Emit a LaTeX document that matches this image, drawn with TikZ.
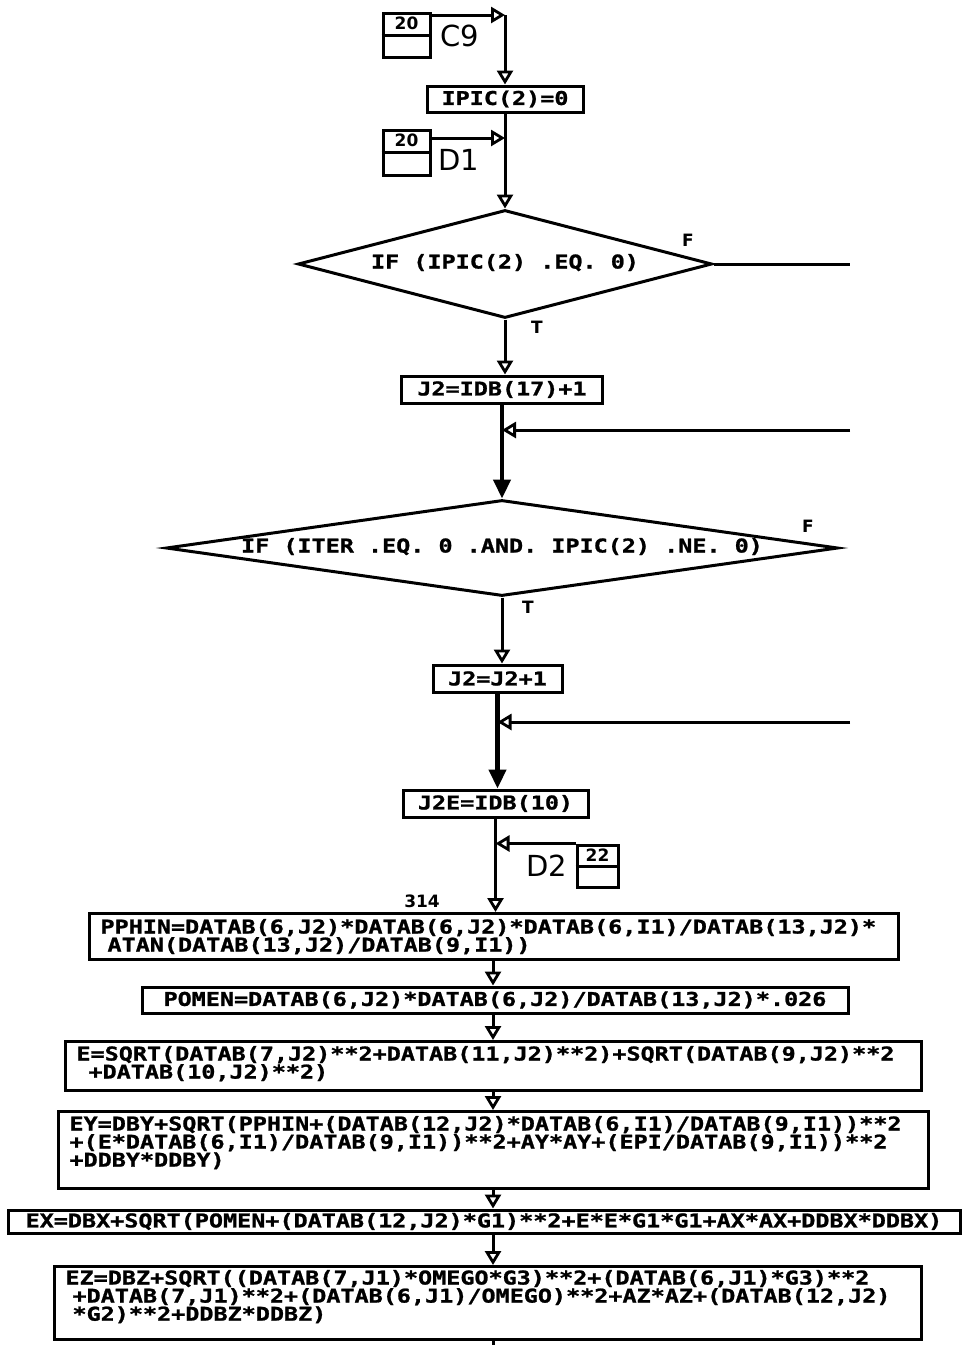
\documentclass[tikz,border=0pt]{standalone}
\usepackage{fontspec}
\usetikzlibrary{arrows.meta,shapes.geometric,calc}
\newfontfamily\plotfont[FakeStretch=1.233,FakeBold=1.2]{DejaVu Sans Mono}
\newfontfamily\lblfont{DejaVu Sans}
\tikzset{
 pf/.style={font={\plotfont\bfseries\fontsize{19pt}{16pt}\selectfont}},
 sbox/.style={draw, line width=3pt, inner sep=0pt, pf},
 mbox/.style={draw, line width=3pt, pf, anchor=north west, align=left, inner xsep=11pt, inner ysep=5pt},
 dia/.style={diamond, draw, line width=3pt, inner sep=0pt, pf, text height=12pt, text depth=3pt},
 flow/.style={line width=3pt},
 heavy/.style={line width=4.5pt},
 oarr/.style={-{Triangle[open, length=14pt, width=16pt, line width=2.8pt]}},
 farr/.style={-{Triangle[length=19pt, width=17pt]}},
 conn/.style={draw, line width=3pt, inner sep=0pt},
 connnum/.style={font={\lblfont\bfseries\fontsize{17pt}{17pt}\selectfont}, inner sep=0pt},
 biglbl/.style={font={\lblfont\fontsize{29pt}{29pt}\selectfont}, inner sep=0pt},
 smlbl/.style={font={\lblfont\bfseries\fontsize{17pt}{17pt}\selectfont}, inner sep=0pt},
}
\begin{document}
\begin{tikzpicture}[x=1pt,y=-1pt]
\useasboundingbox (0,0) rectangle (965,1345);
\fill[white] (0,0) rectangle (965,1345);
% connector C9
\node[conn, minimum width=47pt, minimum height=44pt] (k1) at (406.5,35) {};
\draw[line width=3pt] (k1.west) -- (k1.east);
\node[connnum] (k1n) at ($(k1.north)!0.5!(k1.center)$) {20};
\node[biglbl] (c9) at (460,36) {C9};
\coordinate (c9c) at (505,15);
\node[sbox, minimum width=156pt, minimum height=26pt] (ipic) at (505,99) {IPIC(2)=0};
% connector D1
\node[conn, minimum width=47pt, minimum height=45pt] (k2) at (406.5,152.5) {};
\draw[line width=3pt] (k2.west) -- (k2.east);
\node[connnum] (k2n) at ($(k2.north)!0.5!(k2.center)$) {20};
\node[biglbl] (d1l) at (459,160) {D1};
\coordinate (d1c) at (505,138);
% decision 1
\node[dia, minimum width=414pt, minimum height=108pt, aspect=3.83] (d1) at (505,264) {IF (IPIC(2) .EQ. 0)};
\coordinate (r0) at (850,264);
\node[smlbl] (d1f) at (688,240) {F};
\node[smlbl] (d1t) at (537,327) {T};
\node[sbox, minimum width=201pt, minimum height=27pt] (j2a) at (502,389.5) {J2=IDB(17)+1};
\coordinate (r1) at (850,430);
% decision 2
\node[dia, minimum width=672pt, minimum height=96pt, aspect=7] (d2) at (502,548) {IF (ITER .EQ. 0 .AND. IPIC(2) .NE. 0)};
\node[smlbl] (d2f) at (808,526) {F};
\node[smlbl] (d2t) at (528,607) {T};
\node[sbox, minimum width=129pt, minimum height=27pt] (j3) at (497.5,678.5) {J2=J2+1};
\coordinate (r2) at (850,722);
\node[sbox, minimum width=185pt, minimum height=27pt] (j2e) at (495.5,803.5) {J2E=IDB(10)};
% connector D2
\node[conn, minimum width=41pt, minimum height=42pt] (k3) at (597.5,866) {};
\draw[line width=3pt] (k3.west) -- (k3.east);
\node[connnum] (k3n) at ($(k3.north)!0.5!(k3.center)$) {22};
\node[biglbl] (d2l) at (547,866) {D2};
\node[smlbl] (n314) at (422,901) {314};
% statement boxes
\node[mbox, text width=787pt, text height=15pt, text depth=21pt] (pp) at (88,912)
 {PPHIN=DATAB(6,J2)*DATAB(6,J2)*DATAB(6,I1)/DATAB(13,J2)*\\\hspace*{7pt}ATAN(DATAB(13,J2)/DATAB(9,I1))};
\node[sbox, minimum width=706pt, minimum height=26pt] (pom) at (495,1000)
 {POMEN=DATAB(6,J2)*DATAB(6,J2)/DATAB(13,J2)*.026};
\node[mbox, text width=834pt, text height=14pt, text depth=25pt] (eb) at (64,1040)
 {E=SQRT(DATAB(7,J2)**2+DATAB(11,J2)**2)+SQRT(DATAB(9,J2)**2\\\hspace*{12pt}+DATAB(10,J2)**2)};
\node[mbox, text width=848pt, text height=14pt, text depth=53pt] (ey) at (57,1110)
 {EY=DBY+SQRT(PPHIN+(DATAB(12,J2)*DATAB(6,I1)/DATAB(9,I1))**2\\+(E*DATAB(6,I1)/DATAB(9,I1))**2+AY*AY+(EPI/DATAB(9,I1))**2\\+DDBY*DDBY)};
\node[sbox, minimum width=952pt, minimum height=23pt] (ex) at (484,1221.5)
 {EX=DBX+SQRT(POMEN+(DATAB(12,J2)*G1)**2+E*E*G1*G1+AX*AX+DDBX*DDBX)};
\node[mbox, text width=845pt, text height=13pt, text depth=50pt] (ez) at (53,1265)
 {EZ=DBZ+SQRT((DATAB(7,J1)*OMEGO*G3)**2+(DATAB(6,J1)*G3)**2\\\hspace*{7pt}+DATAB(7,J1)**2+(DATAB(6,J1)/OMEGO)**2+AZ*AZ+(DATAB(12,J2)\\\hspace*{7pt}*G2)**2+DDBZ*DDBZ)};
\coordinate (mb) at (493,1000);
\coordinate (bot) at (491,1345);
% connectors
\draw[flow,oarr] (k1.east |- c9c) -- (c9c);
\draw[flow,oarr] (c9c) -- (ipic.north);
\draw[flow,oarr] (k2.east |- d1c) -- (d1c);
\draw[flow,oarr] (ipic.south) -- (d1.north);
\draw[flow] (d1.east) -- (r0);
\draw[flow,oarr] (d1.south) -- (d1.south |- j2a.north);
\draw[flow,oarr] (r1) -- (r1 -| j2a.south);
\draw[heavy,farr] (j2a.south) -- (d2.north);
\draw[flow,oarr] (d2.south) -- (d2.south |- j3.north);
\draw[flow,oarr] (r2) -- (r2 -| j3.south);
\draw[heavy,farr] (j3.south) -- (j3.south |- j2e.north);
\draw[flow,oarr] (j2e.south) -- (j2e.south |- pp.north);
\draw[flow,oarr] (k3.north west) -- (k3.north west -| j2e.south);
\draw[flow,oarr] (pp.south -| mb) -- (pom.north -| mb);
\draw[flow,oarr] (pom.south -| mb) -- (eb.north -| mb);
\draw[flow,oarr] (eb.south -| mb) -- (ey.north -| mb);
\draw[flow,oarr] (ey.south -| mb) -- (ex.north -| mb);
\draw[flow,oarr] (ex.south -| mb) -- (ez.north -| mb);
\draw[flow] (ez.south -| mb) -- (mb |- bot);
\end{tikzpicture}
\end{document}
